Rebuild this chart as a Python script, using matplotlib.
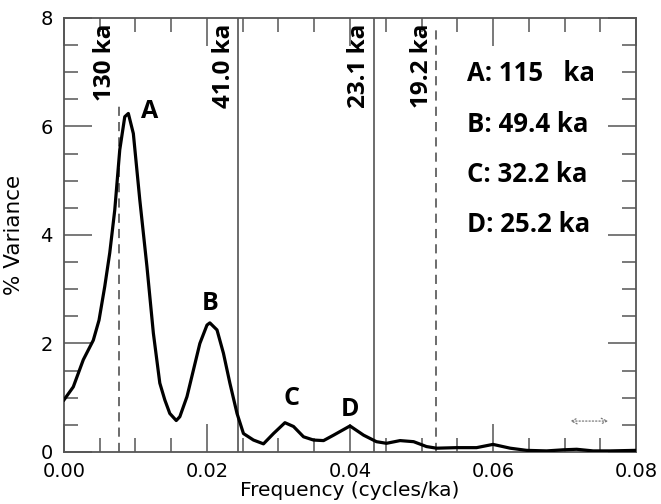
import numpy as np
import matplotlib
matplotlib.use("Agg")
import matplotlib.pyplot as plt
from matplotlib.ticker import MultipleLocator

# spectrum
freq = [0.0, 0.0013, 0.0027, 0.0041, 0.0049, 0.0057, 0.0064, 0.0071, 0.0078, 0.0085,
        0.0090, 0.0097, 0.0106, 0.0116, 0.0125, 0.0134, 0.0141, 0.0148, 0.0157, 0.0162,
        0.0172, 0.0181, 0.0190, 0.0200, 0.0204, 0.0214, 0.0223, 0.0232, 0.0242, 0.0251,
        0.0265, 0.0279, 0.0293, 0.0309, 0.0321, 0.0335, 0.0349, 0.0363, 0.0377, 0.0400,
        0.0419, 0.0437, 0.0451, 0.0470, 0.0489, 0.0507, 0.0521, 0.0549, 0.0577, 0.0600,
        0.0624, 0.0647, 0.0675, 0.0698, 0.0717, 0.0740, 0.0764, 0.0800]
variance = [0.96, 1.20, 1.70, 2.06, 2.43, 3.05, 3.67, 4.46, 5.57, 6.18,
            6.24, 5.87, 4.65, 3.42, 2.19, 1.27, 0.96, 0.71, 0.58, 0.65,
            1.02, 1.51, 2.00, 2.34, 2.38, 2.25, 1.82, 1.27, 0.71, 0.34,
            0.22, 0.15, 0.34, 0.54, 0.47, 0.28, 0.22, 0.21, 0.31, 0.48,
            0.31, 0.19, 0.16, 0.21, 0.19, 0.10, 0.07, 0.08, 0.08, 0.14,
            0.07, 0.03, 0.02, 0.04, 0.05, 0.02, 0.02, 0.03]

# reference periods (ka) drawn as vertical lines
ref_periods = [130, 41.0, 23.1, 19.2]
ref_labels = ["130 ka", "41.0 ka", "23.1 ka", "19.2 ka"]
ref_styles = ["--", "-", "-", "--"]
ref_tops = [6.4, 8, 8, 7.85]

# peak labels
peak_names = ["A", "B", "C", "D"]
peak_x = [0.0120, 0.0205, 0.0318, 0.0400]
peak_y = [6.28, 2.74, 0.99, 0.79]
peak_text = ["A: 115   ka", "B: 49.4 ka", "C: 32.2 ka", "D: 25.2 ka"]

fig = plt.figure(figsize=(6.61, 5.04), dpi=100)
ax = fig.add_axes([0.0968, 0.1032, 0.8654, 0.8611])

ax.plot(freq, variance, color="black", lw=2.3, zorder=3)

for p, lab, ls, top in zip(ref_periods, ref_labels, ref_styles, ref_tops):
    f = 1.0 / p
    ax.plot([f, f], [0, top], color="#444444", lw=1.1, ls=ls,
            dashes=(6, 4) if ls == "--" else (None, None), zorder=2)
    ax.text(f - 0.0003, 7.9, lab, rotation=90, ha="right", va="top",
            fontsize=17.5, fontweight="bold", family="Open Sans")

for n, x, y in zip(peak_names, peak_x, peak_y):
    ax.text(x, y, n, ha="center", va="center", fontsize=18,
            fontweight="bold", family="Open Sans")

for i, t in enumerate(peak_text):
    ax.text(0.0563, 6.97 - i * 0.925, t, ha="left", va="center",
            fontsize=18.5, fontweight="bold", family="Open Sans")

ax.annotate("", xy=(0.0704, 0.57), xytext=(0.0765, 0.57),
            arrowprops=dict(arrowstyle="<->", ls=":", color="#777777", lw=0.9))

ax.set_xlim(0, 0.08)
ax.set_ylim(0, 8)
ax.xaxis.set_major_locator(MultipleLocator(0.02))
ax.xaxis.set_minor_locator(MultipleLocator(0.005))
ax.yaxis.set_major_locator(MultipleLocator(2))
ax.yaxis.set_minor_locator(MultipleLocator(0.5))
ax.xaxis.set_major_formatter(plt.FormatStrFormatter("%.2f"))
ax.yaxis.set_major_formatter(plt.FormatStrFormatter("%d"))

ax.tick_params(which="both", direction="in", top=True, right=True, color="#555555")
ax.tick_params(which="major", length=20, width=1.1, labelsize=14)
ax.tick_params(which="minor", length=10, width=1.1)
ax.tick_params(axis="x", pad=7)
ax.tick_params(axis="y", pad=8)
for s in ax.spines.values():
    s.set_color("#555555")
    s.set_linewidth(1.3)

ax.set_xlabel("Frequency (cycles/ka)", fontsize=14.5, labelpad=0)
ax.set_ylabel("% Variance", fontsize=15.5)
ax.yaxis.set_label_coords(-0.07, 0.5)

fig.savefig("out.png", dpi=100)
